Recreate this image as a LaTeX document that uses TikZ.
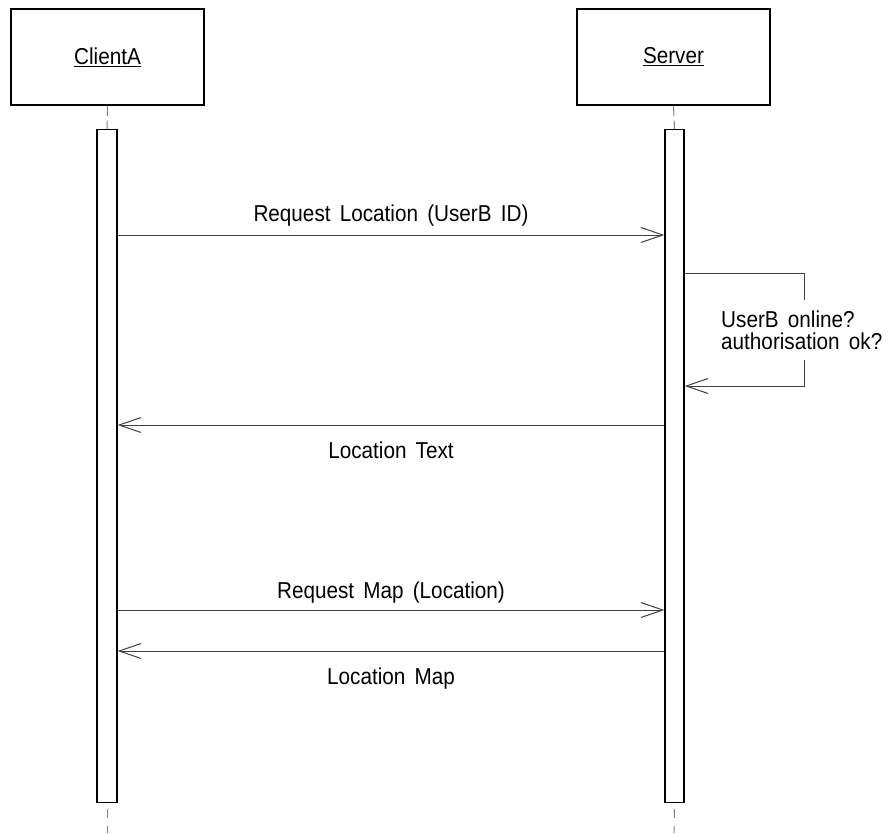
\documentclass[tikz,border=0pt]{standalone}
\usepackage{fontspec}
\setmainfont{Liberation Sans}[FakeStretch=0.9,WordSpace=1.6]
\usetikzlibrary{arrows.meta}

\begin{document}
\begin{tikzpicture}[x=1pt,y=-1pt,
  every node/.style={font=\fontsize{23}{22}\selectfont, inner sep=0pt},
  actor/.style={draw=black, line width=1.5pt, fill=white,
    minimum width=193pt, minimum height=96pt},
  lifeline/.style={draw=black!50, line width=1pt, dash pattern=on 10pt off 5pt},
  lifetail/.style={draw=black!50, line width=1pt, dash pattern=on 9pt off 8pt, dash phase=11pt},
  activation/.style={draw=black, line width=1.2pt, fill=white, anchor=north,
    minimum height=673pt},
  msg/.style={draw=black!75, line width=1pt,
    -{Straight Barb[length=22pt,width=15pt,line width=1pt]}},
  msglabel/.style={anchor=base},
  note/.style={fill=white, align=left, anchor=north west,
    inner xsep=6pt, inner ysep=10.5pt},
]
\useasboundingbox (0,0) rectangle (888,833);

% participants
\node[actor] (clientA) at (107.5,57) {\underline{ClientA}};
\node[actor] (server)  at (673.5,57) {\underline{Server}};

% activation bars
\node[activation, minimum width=20pt] (barA) at (107,129) {};
\node[activation, minimum width=19pt] (barS) at (674.5,129) {};

% lifelines
\coordinate (endA) at (107,833);
\coordinate (endS) at (674,833);
\draw[lifeline] (clientA.south) -- (barA.north);
\draw[lifeline] (server.south) -- (barS.north);
\draw[lifetail] (barA.south) -- (endA);
\draw[lifetail] (barS.south) -- (endS);

% messages
\draw[msg] (barA.east |- 0,235) -- (barS.west |- 0,235);
\node[msglabel] (m1) at (391,221) {Request Location (UserB ID)};

\draw[msg] (barS.east |- 0,273) -- ++(120,0) -- ++(0,113) -- (barS.east |- 0,386);
\node[note] (check) at (715,300) {UserB online?\\authorisation ok?};

\draw[msg] (barS.west |- 0,425) -- (barA.east |- 0,425);
\node[msglabel] (m2) at (391,458) {Location Text};

\draw[msg] (barA.east |- 0,610) -- (barS.west |- 0,610);
\node[msglabel] (m3) at (391,598) {Request Map (Location)};

\draw[msg] (barS.west |- 0,651) -- (barA.east |- 0,651);
\node[msglabel] (m4) at (391,684) {Location Map};
\end{tikzpicture}
\end{document}
